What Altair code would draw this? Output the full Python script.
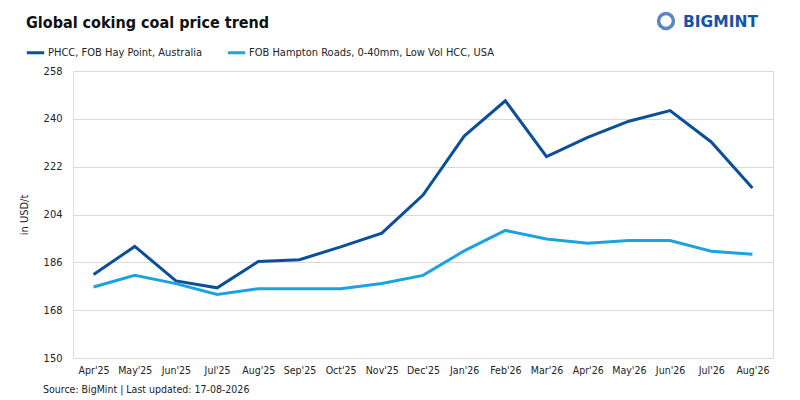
import pandas as pd
import altair as alt

months = ["Apr'25", "May'25", "Jun'25", "Jul'25", "Aug'25", "Sep'25", "Oct'25", "Nov'25",
          "Dec'25", "Jan'26", "Feb'26", "Mar'26", "Apr'26", "May'26", "Jun'26", "Jul'26", "Aug'26"]
phcc = [181.4, 192.0, 179.0, 176.4, 186.3, 187.0, 191.8, 197.0,
        211.3, 233.5, 246.8, 225.8, 233.0, 239.1, 243.1, 231.3, 214.0]
hampton = [176.7, 181.1, 178.0, 173.9, 176.1, 176.1, 176.1, 178.0,
           181.1, 190.3, 198.0, 194.8, 193.2, 194.2, 194.2, 190.2, 189.0]
series_names = ["PHCC, FOB Hay Point, Australia", "FOB Hampton Roads, 0-40mm, Low Vol HCC, USA"]
series_colors = ["#0b4f9c", "#1ba3e1"]
y_ticks = [150, 168, 186, 204, 222, 240, 258]

FONT = "DejaVu Sans Condensed, Liberation Sans, sans-serif"

rows = []
for i, m in enumerate(months):
    rows.append({"month": m, "series": series_names[0], "price": phcc[i]})
    rows.append({"month": m, "series": series_names[1], "price": hampton[i]})
df = pd.DataFrame(rows)

lines = alt.Chart(df).mark_line(strokeWidth=3, strokeJoin="miter").encode(
    x=alt.X("month:N", sort=months, title=None,
            scale=alt.Scale(type="point", padding=0.5),
            axis=alt.Axis(labelAngle=0, ticks=False, domain=False, labelPadding=7,
                          labelFontSize=10.5, labelColor="#222", labelFont=FONT)),
    y=alt.Y("price:Q", title="in USD/t",
            scale=alt.Scale(domain=[150, 258], nice=False, zero=False),
            axis=alt.Axis(values=y_ticks, ticks=False, domain=False, labelPadding=11,
                          labelFontSize=11, labelColor="#222", labelFont=FONT,
                          gridColor="#d9d9d9", gridWidth=1,
                          titleFont=FONT, titleFontSize=11, titleFontWeight="normal",
                          titleColor="#222", titlePadding=14)),
    color=alt.Color("series:N", sort=series_names,
                    scale=alt.Scale(domain=series_names, range=series_colors),
                    legend=alt.Legend(title=None, orient="none", direction="horizontal",
                                      legendX=-48, legendY=-29, symbolType="stroke",
                                      symbolStrokeWidth=3, symbolSize=300, labelLimit=400,
                                      labelFont=FONT, labelFontSize=11, labelColor="#222",
                                      columnPadding=18, labelOffset=2)),
)

title = alt.Chart().mark_text(align="left", baseline="alphabetic", font=FONT,
                              fontSize=16, fontWeight="bold", color="#111").encode(
    x=alt.value(-47), y=alt.value(-43), text=alt.value("Global coking coal price trend"))

logo_text = alt.Chart().mark_text(align="left", baseline="middle", font="DejaVu Sans",
                                  fontSize=15.5, fontWeight="bold", color="#1553a8").encode(
    x=alt.value(610), y=alt.value(-49), text=alt.value("BIGMINT"))

logo_icon = alt.Chart().mark_point(shape="circle", filled=False, size=220, strokeWidth=3.5,
                                   color="#1553a8").encode(
    x=alt.value(593), y=alt.value(-50))

source = alt.Chart().mark_text(align="left", baseline="middle", font=FONT,
                               fontSize=10.5, color="#222").encode(
    x=alt.value(-30), y=alt.value(319), text=alt.value("Source: BigMint | Last updated: 17-08-2026"))

chart = alt.layer(lines, title, logo_icon, logo_text, source).properties(
    width=700, height=287,
    autosize=alt.AutoSizeParams(type="none"),
    padding={"left": 65, "top": 63, "right": 19, "bottom": 42},
).configure_view(stroke=None).configure(background="white")

chart.save("out.html", embed_options={"renderer": "svg", "actions": False})
